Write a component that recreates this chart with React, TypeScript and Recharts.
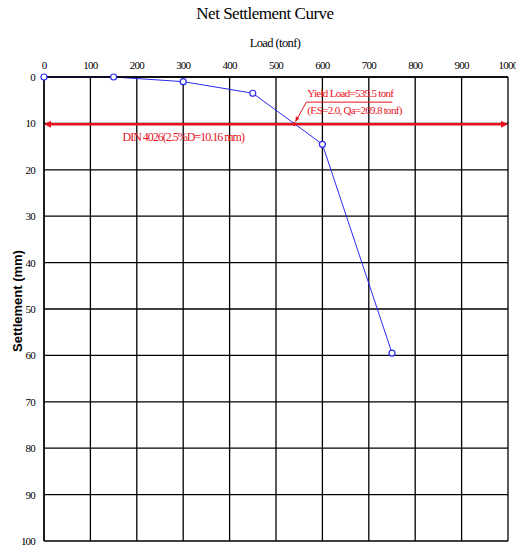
import { LineChart, Line, XAxis, YAxis, CartesianGrid, ReferenceLine, ReferenceDot } from 'recharts'

const loads = [0, 150, 300, 450, 600, 750]
const settlements = [0, 0, 1, 3.5, 14.5, 59.5]
const loadTicks = [0, 100, 200, 300, 400, 500, 600, 700, 800, 900, 1000]
const settlementTicks = [0, 10, 20, 30, 40, 50, 60, 70, 80, 90, 100]
const dinLimit = 10.16
const yieldLoad = 539.5
const yieldText = 'Yield Load=539.5 tonf'
const qaText = '(F.S=2.0, Qa=269.8 tonf)'
const dinText = 'DIN 4026(2.5%D=10.16 mm)'

const data = loads.map((l, i) => ({ load: l, settlement: settlements[i] }))

const RED = '#e8121e'
const FONT = '"Liberation Serif", "DejaVu Serif", serif'

function DinLine(props: any) {
  const { x1, y1, x2, y2 } = props
  const a = 7
  return (
    <g>
      <line x1={x1 + 3} y1={y1} x2={x2 - 3} y2={y2} stroke={RED} strokeWidth={2.5} />
      <polygon points={`${x1},${y1} ${x1 + a},${y1 - 3.5} ${x1 + a},${y1 + 3.5}`} fill={RED} />
      <polygon points={`${x2},${y2} ${x2 - a},${y2 - 3.5} ${x2 - a},${y2 + 3.5}`} fill={RED} />
      <text x={x1 + 0.3 * (x2 - x1)} y={y1 + 17} fill={RED} fontSize={12} fontFamily={FONT} textAnchor="middle" letterSpacing={-1}>
        {dinText}
      </text>
    </g>
  )
}

function YieldMark(props: any) {
  const { cx, cy } = props
  return (
    <g>
      <circle cx={cx} cy={cy} r={1.8} fill={RED} />
      <line x1={cx + 12} y1={cy - 22} x2={cx + 1.5} y2={cy - 3} stroke={RED} strokeWidth={1} />
      <polygon points={`${cx + 1},${cy - 2} ${cx + 1.5},${cy - 8} ${cx + 5},${cy - 6}`} fill={RED} />
      <line x1={cx + 12} y1={cy - 22} x2={cx + 98} y2={cy - 22} stroke={RED} strokeWidth={1} />
      <text x={cx + 13} y={cy - 27} fill={RED} fontSize={11} fontFamily={FONT} letterSpacing={-0.7}>
        {yieldText}
      </text>
      <text x={cx + 13} y={cy - 10} fill={RED} fontSize={11} fontFamily={FONT} letterSpacing={-0.7}>
        {qaText}
      </text>
    </g>
  )
}

export default function App() {
  return (
    <div style={{ position: 'absolute', left: 0, top: 0, width: 516, height: 551, background: '#fff', fontFamily: FONT }}>
      <div style={{ position: 'absolute', left: 0, width: 530, top: 4, textAlign: 'center', fontSize: 17, letterSpacing: -0.5 }}>
        Net Settlement Curve
      </div>
      <div style={{ position: 'absolute', left: 0, width: 550, top: 36, textAlign: 'center', fontSize: 12.5, letterSpacing: -0.6 }}>
        Load (tonf)
      </div>
      <div
        style={{
          position: 'absolute',
          left: 17,
          top: 301,
          transform: 'translate(-50%, -50%) rotate(-90deg)',
          whiteSpace: 'nowrap',
          fontSize: 13,
          fontWeight: 'bold',
          fontFamily: '"Liberation Sans", Arial, sans-serif',
        }}
      >
        Settlement (mm)
      </div>
      <LineChart width={516} height={551} data={data} margin={{ top: 57, right: 8, bottom: 10, left: 14 }}>
        <CartesianGrid stroke="#000" strokeWidth={1.3} />
        <XAxis
          dataKey="load"
          type="number"
          orientation="top"
          domain={[0, 1000]}
          ticks={loadTicks}
          height={20}
          axisLine={{ stroke: '#000', strokeWidth: 1.3 }}
          tickLine={false}
          tick={{ fill: '#000', fontSize: 11, fontFamily: FONT, letterSpacing: -0.8 }}
          tickMargin={2}
          interval={0}
        />
        <YAxis
          type="number"
          reversed
          domain={[0, 100]}
          ticks={settlementTicks}
          width={30}
          axisLine={{ stroke: '#000', strokeWidth: 1.3 }}
          tickLine={false}
          tick={{ fill: '#000', fontSize: 11, fontFamily: FONT, letterSpacing: -0.8 }}
          tickMargin={3}
          interval={0}
        />
        <ReferenceLine y={dinLimit} shape={DinLine} ifOverflow="visible" />
        <Line
          dataKey="settlement"
          stroke="#2a2af0"
          strokeWidth={1}
          dot={{ r: 3, stroke: '#2a2af0', strokeWidth: 1.2, fill: '#fff' }}
          isAnimationActive={false}
        />
        <ReferenceDot x={yieldLoad} y={dinLimit} shape={YieldMark} ifOverflow="visible" />
      </LineChart>
    </div>
  )
}
